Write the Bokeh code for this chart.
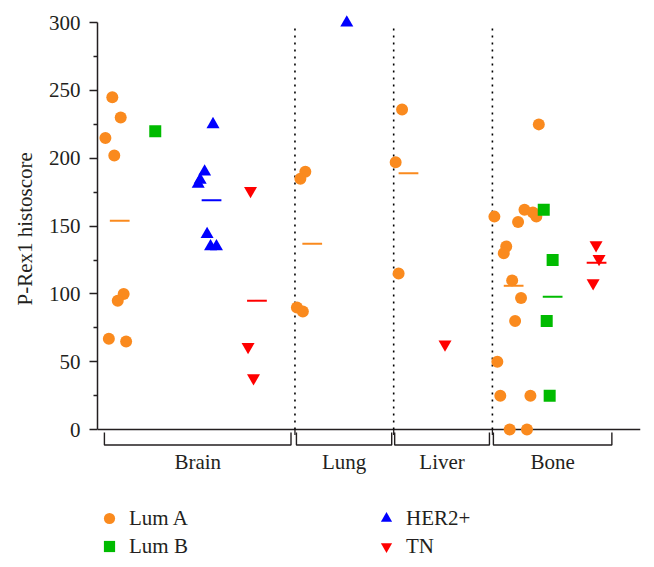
from bokeh.plotting import figure
from bokeh.models import Range1d, FixedTicker, Legend, LegendItem, ColumnDataSource, Title
from bokeh.core.properties import value
from bokeh.embed import file_html
from bokeh.resources import INLINE

# ---------------- data ----------------
sites = ["Brain", "Lung", "Liver", "Bone"]

lumA_x = [0.30, 0.47, 0.16, 0.34, 0.53, 0.41, 0.23, 0.58,
          4.21, 4.11, 4.04, 4.16,
          6.17, 6.04, 6.10,
          8.94, 8.04, 8.65, 8.82, 8.89, 8.52, 8.28, 8.23, 8.40, 8.58, 8.46, 8.10, 8.16, 8.77, 8.35, 8.70]
lumA_y = [245, 230, 215, 202, 100, 95, 67, 65,
          190, 185, 90, 87,
          236, 197, 115,
          225, 157, 162, 160, 157, 153, 135, 130, 110, 97, 80, 50, 25, 25, 0, 0]

lumB_x = [1.17, 9.04, 9.22, 9.10, 9.16]
lumB_y = [220, 162, 125, 80, 25]

her2_x = [2.34, 2.17, 2.08, 2.04, 2.22, 2.29, 2.41, 5.05]
her2_y = [225, 190, 184, 181, 144, 135, 135, 300]

tn_x = [3.10, 3.05, 3.16, 7.04, 10.10, 10.16, 10.04]
tn_y = [176, 61, 38, 63, 136, 126, 108]

mean_group = ["Lum A", "HER2+", "TN", "Lum A", "Lum A", "Lum A", "Lum B", "TN"]
mean_x = [0.45, 2.31, 3.23, 4.35, 6.30, 8.43, 9.22, 10.11]
mean_y = [154, 169, 95, 137, 189, 106, 98, 123]

y_ticks = [0, 50, 100, 150, 200, 250, 300]
y_minor = [25, 75, 125, 175, 225, 275]
y_title = "P-Rex1 histoscore"

# ---------------- layout / style ----------------
site_start = [0.14, 4.03, 6.02, 8.02]
site_end = [3.92, 5.96, 7.94, 10.42]
dividers = [4, 6, 8]
x_end = 11

colors = {"Lum A": "#FA8A1E", "Lum B": "#00BB00", "HER2+": "#0000FF", "TN": "#FF0000"}
ink = "#231F20"
FONT = "Liberation Serif"
FS = "21px"

p = figure(width=645, height=560, frame_width=543, frame_height=546,
           x_range=Range1d(0, x_end), y_range=Range1d(-96.5, 306),
           output_backend="svg", toolbar_location=None, x_axis_location=None,
           min_border_left=97, min_border_right=5, min_border_top=14, min_border_bottom=0)
p.outline_line_color = None
p.grid.visible = False
p.background_fill_color = "white"
p.border_fill_color = "white"

ax = p.yaxis[0]
ax.bounds = (0, 300)
ax.ticker = FixedTicker(ticks=y_ticks, minor_ticks=y_minor)
ax.major_label_text_font = FONT
ax.major_label_text_font_size = FS
ax.major_label_text_font_style = "normal"
ax.major_label_text_color = ink
ax.major_label_standoff = 9
ax.axis_line_color = ink
ax.axis_line_width = 1.5
ax.major_tick_line_color = ink
ax.major_tick_line_width = 1.5
ax.major_tick_out = 8
ax.major_tick_in = 0
ax.minor_tick_line_color = ink
ax.minor_tick_line_width = 1.5
ax.minor_tick_out = 4
ax.minor_tick_in = 0

# y-axis title placed along the 0-300 span of the axis
p.add_layout(Title(text=y_title, align="left", vertical_align="bottom", offset=255, standoff=17,
                   text_font=FONT, text_font_size=FS, text_font_style="normal", text_color=ink),
             "left")

# baseline (x axis)
p.segment(x0=[0], y0=[0], x1=[x_end], y1=[0], line_color=ink, line_width=1.5)
# dotted dividers
p.segment(x0=dividers, y0=[0] * 3, x1=dividers, y1=[298] * 3,
          line_color="black", line_width=1.6, line_dash="2 5")
# short ticks under axis at dividers
p.segment(x0=dividers, y0=[0] * 3, x1=dividers, y1=[-4] * 3, line_color=ink, line_width=1.3)

# brackets
b_top, b_bot = -2.1, -11.4
p.multi_line(xs=[[s, s, e, e] for s, e in zip(site_start, site_end)],
             ys=[[b_top, b_bot, b_bot, b_top]] * len(sites),
             line_color=ink, line_width=1.4)
p.text(x=[(s + e) / 2 for s, e in zip(site_start, site_end)], y=[-23.8] * len(sites), text=sites,
       text_font=value(FONT), text_font_size=FS, text_color=ink,
       text_align="center", text_baseline="middle")

# points
rA = p.scatter(lumA_x, lumA_y, marker="circle", size=12, fill_color=colors["Lum A"], line_color=None)
rB = p.scatter(lumB_x, lumB_y, marker="square", size=12, fill_color=colors["Lum B"], line_color=None)
rH = p.scatter(her2_x, her2_y, marker="triangle", size=13, fill_color=colors["HER2+"], line_color=None)
rT = p.scatter(tn_x, tn_y, marker="inverted_triangle", size=13, fill_color=colors["TN"], line_color=None)

# mean lines
half = 0.2
msrc = ColumnDataSource(dict(x0=[m - half for m in mean_x], x1=[m + half for m in mean_x],
                             y=mean_y, c=[colors[g] for g in mean_group]))
p.segment(x0="x0", y0="y", x1="x1", y1="y", line_color="c", line_width=2, source=msrc)

def make_legend(items, loc):
    lg = Legend(items=items, location=loc, orientation="vertical",
                glyph_width=28, glyph_height=28, label_standoff=6, spacing=0,
                padding=0, margin=0, border_line_color=None, background_fill_alpha=0,
                label_text_font=FONT, label_text_font_size=FS, label_text_color=ink,
                label_height=28)
    p.add_layout(lg)

make_legend([LegendItem(label="Lum A", renderers=[rA]), LegendItem(label="Lum B", renderers=[rB])], (-2, 0))
make_legend([LegendItem(label="HER2+", renderers=[rH]), LegendItem(label="TN", renderers=[rT])], (275, 0))

open("out.html", "w").write(file_html(p, INLINE))
